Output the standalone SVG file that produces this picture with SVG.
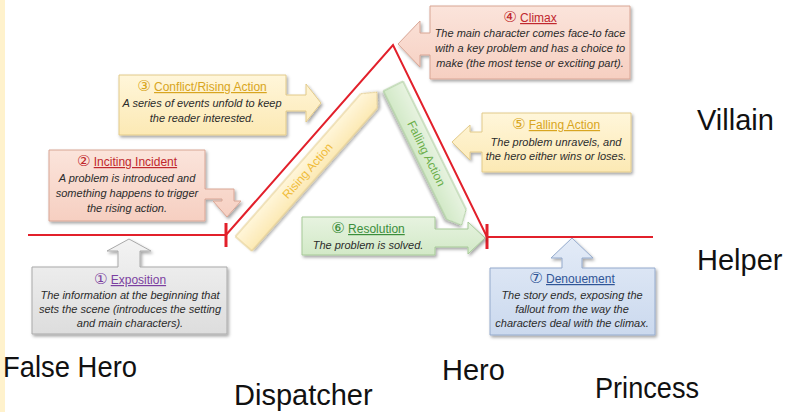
<svg xmlns="http://www.w3.org/2000/svg" width="806" height="412" viewBox="0 0 806 412">
<defs>
<filter id="sh" x="-10%" y="-10%" width="125%" height="130%">
<feDropShadow dx="1.5" dy="2" stdDeviation="1.5" flood-color="#000" flood-opacity="0.35"/>
</filter>
<linearGradient id="gGray" x1="0" y1="0" x2="0" y2="1"><stop offset="0" stop-color="#F3F3F3"/><stop offset="1" stop-color="#DDDDDD"/></linearGradient>
<linearGradient id="gPink" x1="0" y1="0" x2="0" y2="1"><stop offset="0" stop-color="#FBE4DB"/><stop offset="1" stop-color="#F6CFC1"/></linearGradient>
<linearGradient id="gYel" x1="0" y1="0" x2="0" y2="1"><stop offset="0" stop-color="#FFF6DA"/><stop offset="1" stop-color="#FCE9B4"/></linearGradient>
<linearGradient id="gGrn" x1="0" y1="0" x2="0" y2="1"><stop offset="0" stop-color="#E7F3E0"/><stop offset="1" stop-color="#D2E9C7"/></linearGradient>
<linearGradient id="gBlu" x1="0" y1="0" x2="0" y2="1"><stop offset="0" stop-color="#E3EBF7"/><stop offset="1" stop-color="#CBD9EE"/></linearGradient>
</defs>
<style>
.box{filter:url(#sh);stroke-width:1}
.gray{fill:url(#gGray);stroke:#A9A9A9}
.pink{fill:url(#gPink);stroke:#D8A594}
.yel{fill:url(#gYel);stroke:#E2CA8A}
.grn{fill:url(#gGrn);stroke:#A6C997}
.blu{fill:url(#gBlu);stroke:#94AACC}
.ttl{font-family:"Liberation Sans","DejaVu Sans",sans-serif;font-size:12px;text-anchor:middle}
.n{font-family:"DejaVu Sans",sans-serif;font-size:15px}
.u{text-decoration:underline}
.body{font-family:"Liberation Sans",sans-serif;font-size:11px;font-style:italic;fill:#2B2B2B;text-anchor:middle}
.big{font-family:"Liberation Sans",sans-serif;font-size:29px;fill:#111}
.red{stroke:#E2202B;stroke-width:2;fill:none}
.tick{stroke:#E2202B;stroke-width:3}
.band{font-family:"Liberation Sans",sans-serif;font-size:12px;text-anchor:middle;dominant-baseline:central}
</style>
<rect x="0" y="0" width="5" height="412" fill="#FFF2CC"/>

<g id="connectors">
<polyline class="red" points="28,235 226,235 393,45 487,237 653,237"/>
<line class="tick" x1="226" y1="223" x2="226" y2="247"/>
<line class="tick" x1="487" y1="224" x2="487" y2="249"/>
</g>

<g id="rising-action" transform="translate(226,235) rotate(-48.7)">
<polygon class="box yel" points="5,8 195,8 207,19 195,30 5,30"/>
<text class="band" x="102" y="19" fill="#F0BC3A">Rising Action</text>
</g>

<g id="falling-action" transform="translate(393,45) rotate(63.8)">
<polygon class="box grn" points="37,7 180,7 192,18 180,29 37,29"/>
<text class="band" x="112" y="18" fill="#6BAE4A">Falling Action</text>
</g>

<g id="exposition">
<path class="box gray" d="M32,267 H118 V251 H107 L129,239 L151,251 H140 V267 H227 V334 H32 Z"/>
<text class="ttl" x="130" y="284" fill="#7B3FA0"><tspan class="n">①</tspan> <tspan class="u">Exposition</tspan></text>
<text class="body" x="130" y="299">The information at the beginning that</text>
<text class="body" x="130" y="313">sets the scene (introduces the setting</text>
<text class="body" x="130" y="327">and main characters).</text>
</g>

<g id="inciting-incident">
<path class="box pink" d="M49,150 H205 V189 H234 V201 H241 L227,217 L213,201 H222 V199 H205 V221 H49 Z"/>
<text class="ttl" x="127" y="166" fill="#C0272D"><tspan class="n">②</tspan> <tspan class="u">Inciting Incident</tspan></text>
<text class="body" x="127" y="182">A problem is introduced and</text>
<text class="body" x="127" y="197">something happens to trigger</text>
<text class="body" x="127" y="212">the rising action.</text>
</g>

<g id="conflict">
<path class="box yel" d="M119,75 H286 V95 H306 V84 L321,103 L306,122 V111 H286 V135 H119 Z"/>
<text class="ttl" x="202" y="91" fill="#D8A520"><tspan class="n">③</tspan> <tspan class="u">Conflict/Rising Action</tspan></text>
<text class="body" x="202" y="107">A series of events unfold to keep</text>
<text class="body" x="202" y="122">the reader interested.</text>
</g>

<g id="climax">
<path class="box pink" d="M430,6 H630 V79 H430 V55 H420 V67 L398,44 L420,21 V33 H430 Z"/>
<text class="ttl" x="530" y="22" fill="#C0272D"><tspan class="n">④</tspan> <tspan class="u">Climax</tspan></text>
<text class="body" x="530" y="37">The main character comes face-to face</text>
<text class="body" x="530" y="52">with a key problem and has a choice to</text>
<text class="body" x="530" y="67">make (the most tense or exciting part).</text>
</g>

<g id="falling-action-box">
<path class="box yel" d="M482,113 H631 V172 H482 V152 H470 V160 L452,142 L470,125 V132 H482 Z"/>
<text class="ttl" x="556" y="129" fill="#D8A520"><tspan class="n">⑤</tspan> <tspan class="u">Falling Action</tspan></text>
<text class="body" x="556" y="146">The problem unravels, and</text>
<text class="body" x="556" y="160">the hero either wins or loses.</text>
</g>

<g id="resolution">
<path class="box grn" d="M302,217 H435 V229 H468 V222 L485,238 L468,254 V247 H435 V255 H302 Z"/>
<text class="ttl" x="368" y="233" fill="#3B8E3B"><tspan class="n">⑥</tspan> <tspan class="u">Resolution</tspan></text>
<text class="body" x="368" y="249">The problem is solved.</text>
</g>

<g id="denouement">
<path class="box blu" d="M490,268 H562 V258 H551 L572,238 L593,258 H582 V268 H655 V335 H490 Z"/>
<text class="ttl" x="572" y="283" fill="#2F5597"><tspan class="n">⑦</tspan> <tspan class="u">Denouement</tspan></text>
<text class="body" x="572" y="299">The story ends, exposing the</text>
<text class="body" x="572" y="313">fallout from the way the</text>
<text class="body" x="572" y="327">characters deal with the climax.</text>
</g>

<g id="labels">
<text class="big" x="697" y="130">Villain</text>
<text class="big" x="697" y="270">Helper</text>
<text class="big" x="3" y="377" textLength="134" lengthAdjust="spacingAndGlyphs">False Hero</text>
<text class="big" x="234" y="405">Dispatcher</text>
<text class="big" x="442" y="380">Hero</text>
<text class="big" x="595" y="398" textLength="104" lengthAdjust="spacingAndGlyphs">Princess</text>
</g>
</svg>
